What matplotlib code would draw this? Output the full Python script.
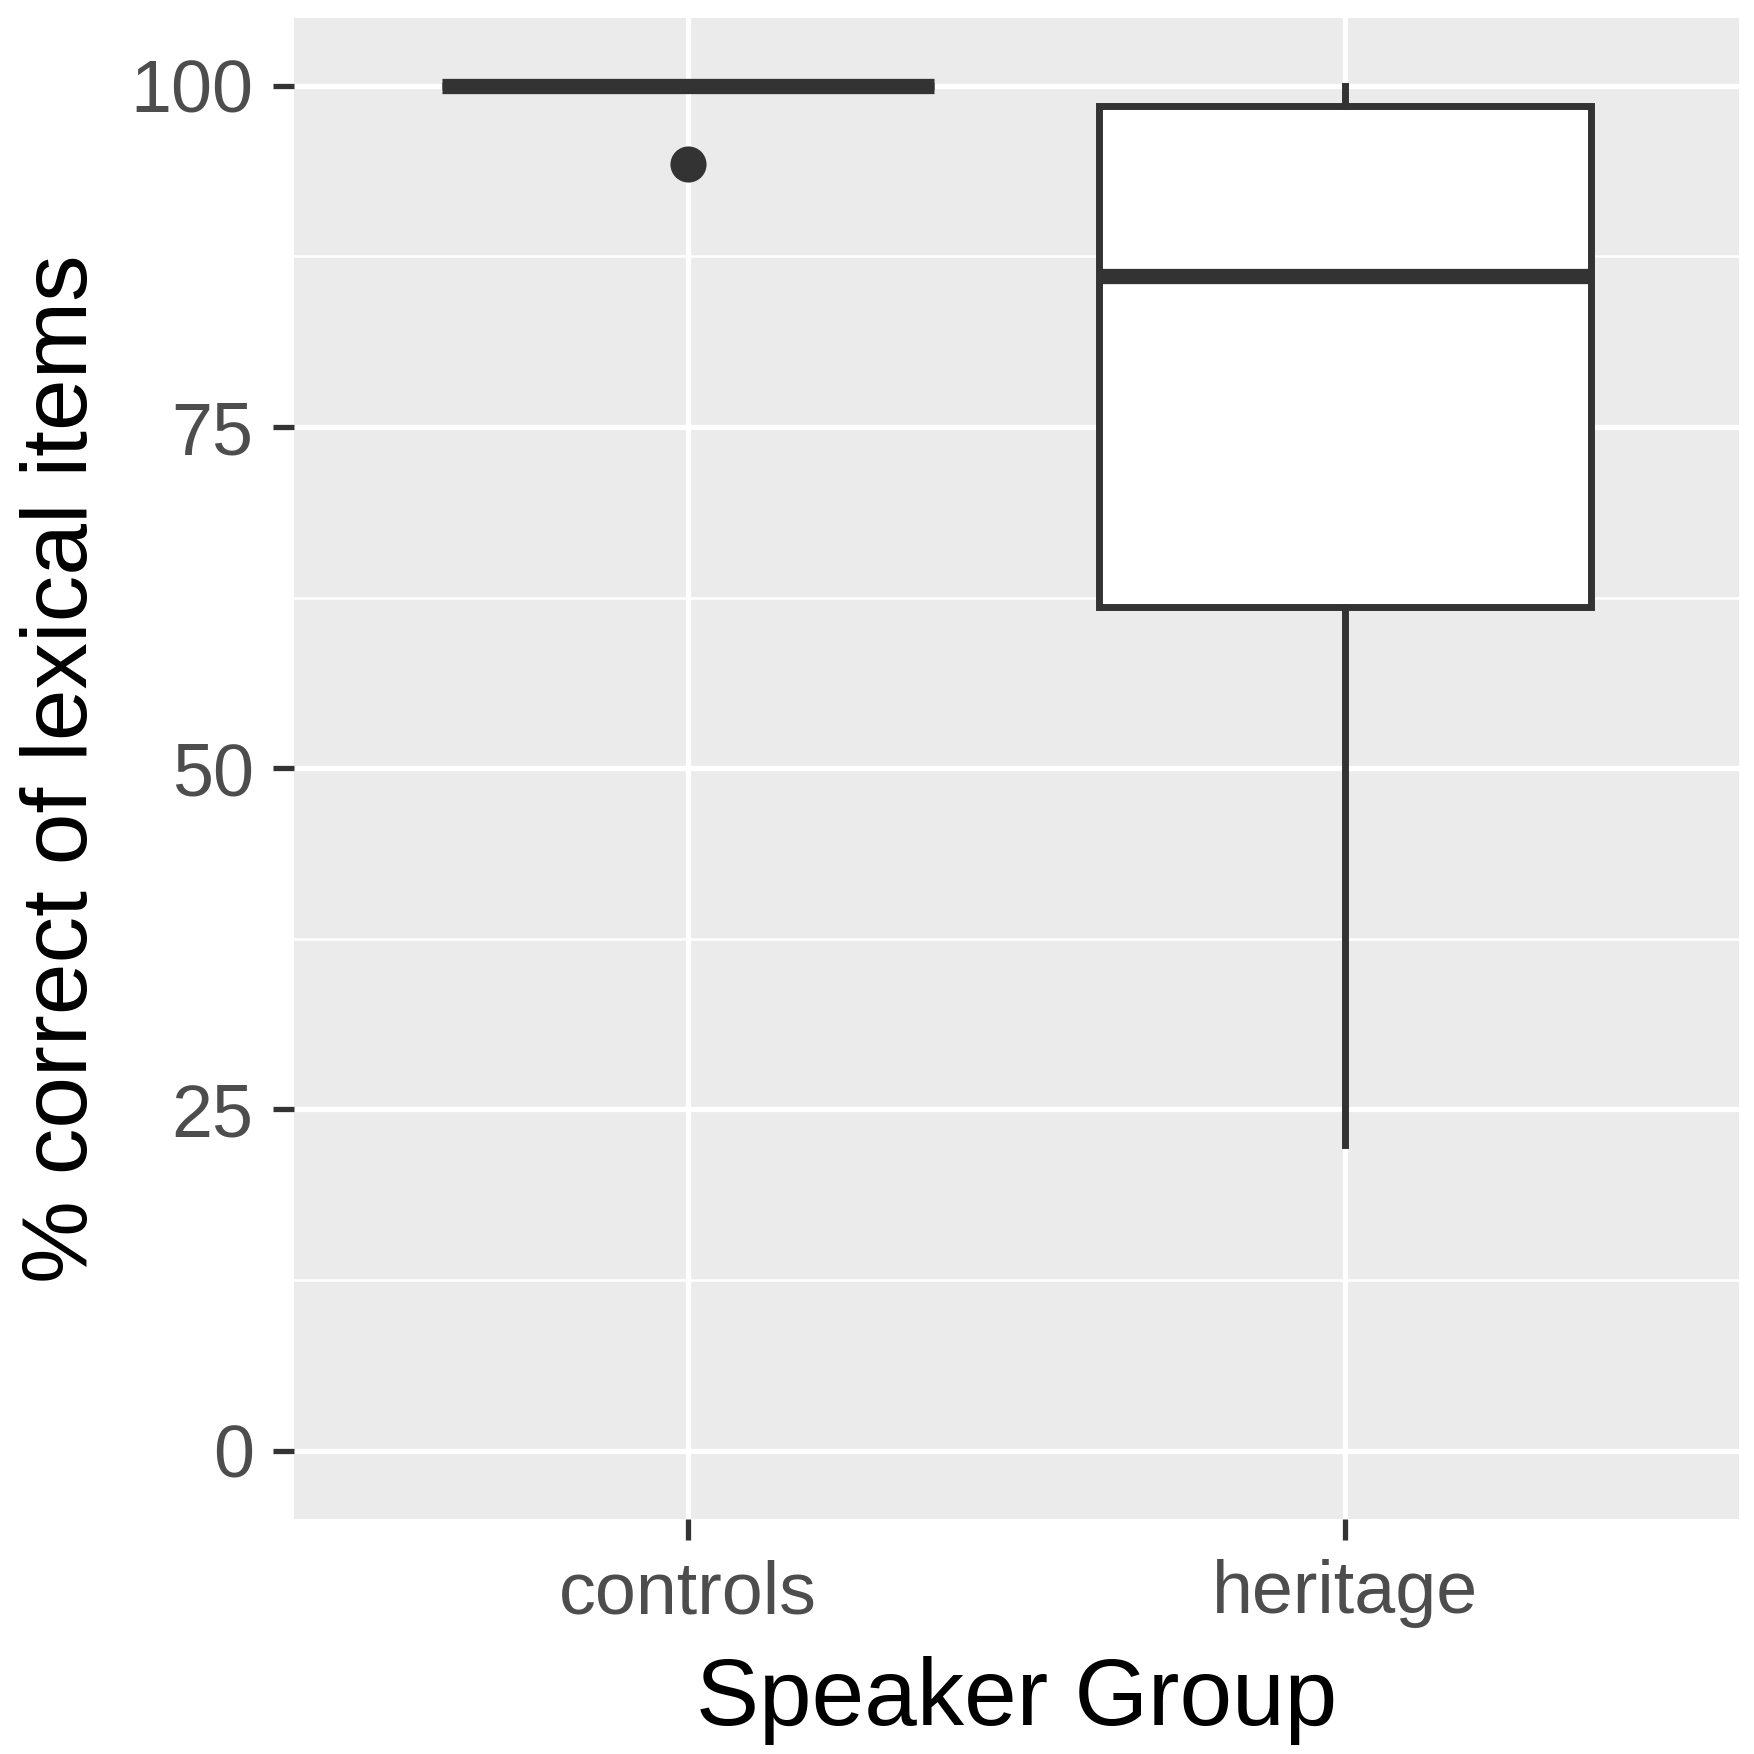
import matplotlib
matplotlib.use("Agg")
import matplotlib.pyplot as plt

# ------------------------------------------------------------ data
groups = ["controls", "heritage"]
q1 = [100.0, 61.8]
median = [100.0, 86.1]
q3 = [100.0, 98.5]
whisker_lo = [100.0, 22.4]
whisker_hi = [100.0, 100.0]
outliers = [[94.3], []]

y_ticks = [0, 25, 50, 75, 100]
y_minor = [12.5, 37.5, 62.5, 87.5]

# ------------------------------------------------------------ style
plt.rcParams["font.family"] = ["Liberation Sans", "DejaVu Sans"]
dark = "#333333"
panel_bg = "#EBEBEB"

fig = plt.figure(figsize=(8.77, 8.77), dpi=200)
ax = fig.add_axes([0.1676, 0.134, 0.8238, 0.856])
ax.set_facecolor(panel_bg)
for s in ax.spines.values():
    s.set_visible(False)

# grid (drawn manually so minor/major widths match ggplot)
for y in y_minor:
    ax.axhline(y, color="white", lw=0.9, zorder=0)
for y in y_ticks:
    ax.axhline(y, color="white", lw=1.9, zorder=0)
for x in range(1, len(groups) + 1):
    ax.axvline(x, color="white", lw=1.9, zorder=0)

stats = []
for i, g in enumerate(groups):
    stats.append({"label": g, "q1": q1[i], "med": median[i], "q3": q3[i],
                  "whislo": whisker_lo[i], "whishi": whisker_hi[i],
                  "fliers": outliers[i]})

ax.bxp(stats, positions=range(1, len(groups) + 1), widths=0.75,
       showcaps=False, patch_artist=True,
       boxprops=dict(facecolor="white", edgecolor=dark, linewidth=2.5),
       medianprops=dict(color=dark, linewidth=5.5, solid_capstyle="butt"),
       whiskerprops=dict(color=dark, linewidth=2.5),
       flierprops=dict(marker="o", markersize=12, markerfacecolor=dark,
                       markeredgecolor=dark),
       zorder=3)

ax.set_xlim(0.4, 2.6)
ax.set_ylim(-5, 105)
ax.set_xticks(range(1, len(groups) + 1))
ax.set_xticklabels(groups)
ax.set_yticks(y_ticks)
ax.set_yticklabels([str(t) for t in y_ticks])
ax.tick_params(axis="both", length=7.5, width=1.9, color=dark,
               labelcolor="#4D4D4D", labelsize=26.5, pad=7)

ax.set_xlabel("Speaker Group", fontsize=34, color="black", labelpad=10)
ax.set_ylabel("% correct of lexical items", fontsize=33.5, color="black", labelpad=9)

fig.savefig("out.png", dpi=200, facecolor="white")
